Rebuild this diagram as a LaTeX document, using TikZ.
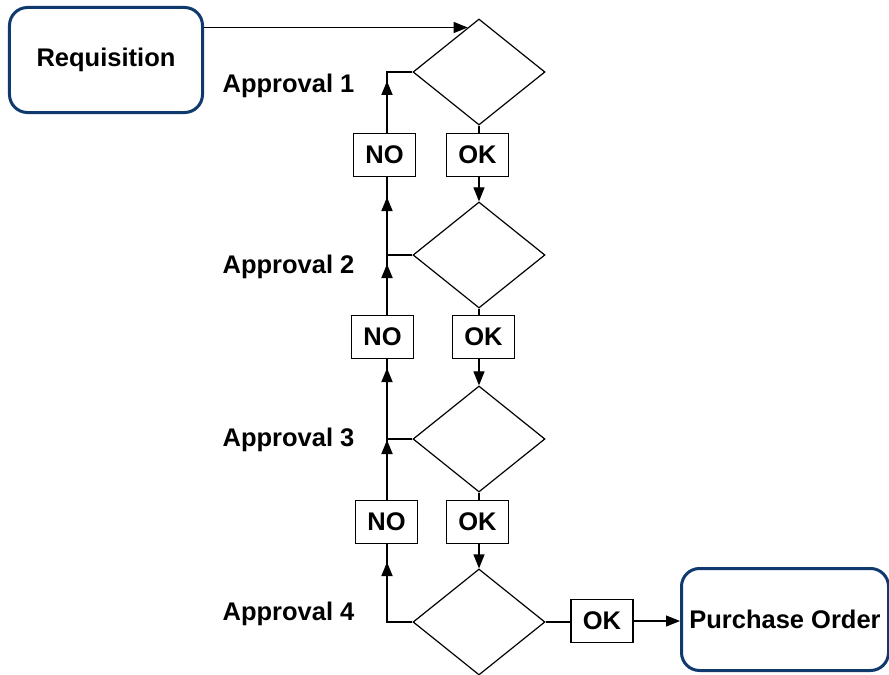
\documentclass[tikz,border=0pt]{standalone}
\usepackage{fontspec}
\setmainfont{Liberation Sans}
\usepackage{xcolor}
\usepackage{tikz}
\usetikzlibrary{arrows.meta,positioning,shapes.geometric,calc}
\definecolor{navy}{RGB}{16,58,110}

\begin{document}
\begin{tikzpicture}[x=0.5bp,y=-0.5bp,line width=0.6bp,
    font=\fontsize{12.8}{15}\selectfont\bfseries,
    arr/.style={-{Triangle[length=7bp,width=5.5bp]}},
    column/.style={line width=0.9bp},
    endbox/.style={draw=navy,line width=1.5bp,rounded corners=9bp,minimum width=96.5bp,minimum height=52.5bp},
    check/.style={draw,shape=diamond,minimum width=66bp,minimum height=53bp,inner sep=0pt},
    answer/.style={draw,minimum width=31bp,minimum height=21.5bp,inner sep=0pt}]
    \useasboundingbox (0,0) rectangle (889,675);
    \fill[white] (0,0) rectangle (889,675);
    \node[endbox] (req) at (106,60) {\raisebox{-1.5bp}{Requisition}};
    \node[endbox,minimum width=103.5bp,minimum height=51bp] (po) at (785,619.5) {Purchase Order};
    \foreach \k/\y in {1/72,2/255,3/439,4/622} {
        \node[check] (d\k) at (479,\y) {};
        \coordinate (j\k) at (387,\y);
    }
    \foreach \k/\y in {1/86,2/267,3/440,4/614}
        \node[anchor=west,inner sep=0pt] (lab\k) at (222,\y) {Approval \k};
    \foreach \k/\x/\y in {1/477.5/155, 2/483.5/337, 3/477.5/522}
        \node[answer] (ok\k) at (\x,\y) {OK};
    \foreach \k/\x/\y in {1/384.5/155, 2/382.5/337, 3/386.5/522}
        \node[answer] (no\k) at (\x,\y) {NO};
    \node[answer] (ok4) at (602,621) {OK};
    \coordinate (in1) at ($(d1.north)!0.17!(d1.west)$);
    \draw[arr] (req.east |- in1) -- (in1);
    \foreach \k/\n in {1/2,2/3,3/4} {
        \draw (d\k.south) -- (d\k.south |- ok\k.north);
        \draw[arr] (d\n.north |- ok\k.south) -- (d\n.north);
    }
    \foreach \k/\s in {1/4.5bp,2/4.5bp,3/0.5bp} {
        \draw[column] (d\k.west) -- (j\k) -- (j\k |- no\k.north);
        \draw[column,arr,shorten >=\s] (j\k |- no\k.north) -- (j\k);
    }
    \foreach \k/\n/\s in {1/2/10bp,2/3/4.5bp,3/4/9bp} {
        \draw[column] (d\n.west) -- (j\n) -- (j\n |- no\k.south);
        \draw[column,arr,shorten >=\s] (j\n) -- (j\n |- no\k.south);
    }
    \draw (d4.east) -- (d4.east -| ok4.west);
    \draw[arr] (ok4.east) -- (ok4.east -| po.west);
\end{tikzpicture}
\end{document}
